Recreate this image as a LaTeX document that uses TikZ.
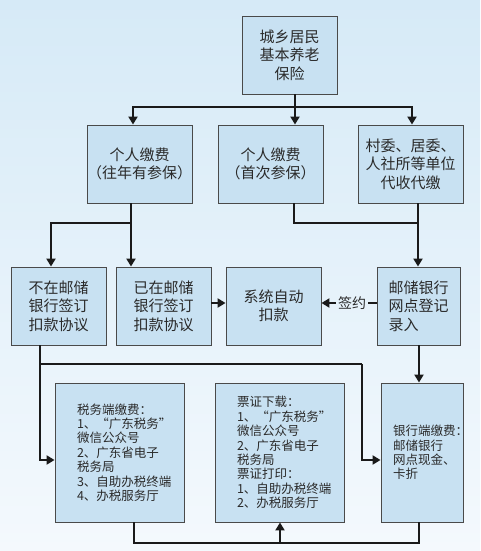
\documentclass[tikz,border=0pt]{standalone}
\usepackage{fontspec}
\setmainfont{Noto Sans CJK SC}
\usetikzlibrary{arrows.meta}
\definecolor{bgtop}{HTML}{D6EAF7}
\definecolor{bgbot}{HTML}{F4F9FD}
\definecolor{boxfill}{HTML}{C8E1F2}
\definecolor{boxline}{HTML}{4A4A4A}
\definecolor{linecol}{HTML}{1A1A1A}
\definecolor{txt}{HTML}{2A2A2A}
\tikzset{
  box/.style={draw=boxline, line width=0.9pt, fill=boxfill, inner sep=0pt, align=center, text=txt},
  bigtext/.style={font=\fontsize{15}{18.5}\selectfont},
  smalltext/.style={font=\fontsize{12.5}{14.4}\selectfont, align=left, inner ysep=0pt},
  conn/.style={draw=linecol, line width=2.6pt},
  arr/.style={conn, -{Triangle[length=8pt,width=9pt]}}
}
\begin{document}
\begin{tikzpicture}[x=1pt,y=-1pt]
\shade[top color=bgtop, bottom color=bgbot] (0,0) rectangle (480,551);
\useasboundingbox (0,0) rectangle (480,551);
% row 1
\node[box, bigtext, minimum width=95pt, minimum height=78pt] (T) at (289.5,55) {城乡居民\\基本养老\\保险};
% row 2
\node[box, bigtext, minimum width=105pt, minimum height=78pt] (A) at (139.5,164) {个人缴费\\（往年有参保）};
\node[box, bigtext, minimum width=105pt, minimum height=78pt] (B) at (270.5,164) {个人缴费\\（首次参保）};
\node[box, bigtext, minimum width=105pt, minimum height=78pt] (C) at (410.5,164) {村委、居委、\\人社所等单位\\代收代缴};
% row 3
\node[box, bigtext, minimum width=95pt, minimum height=78pt, align=left] (D) at (58.5,306) {不在邮储\\银行签订\\扣款协议};
\node[box, bigtext, minimum width=95pt, minimum height=78pt, align=left] (E) at (163.5,306) {已在邮储\\银行签订\\扣款协议};
\node[box, bigtext, minimum width=95pt, minimum height=78pt] (F) at (273.5,306) {系统自动\\扣款};
\node[box, bigtext, minimum width=83pt, minimum height=78pt, align=left] (G) at (418.5,306) {邮储银行\\网点登记\\录入};
\node[text=txt, font=\fontsize{14}{16}\selectfont, inner sep=2pt] (S) at (352,303) {签约};
% row 4
\node[box, smalltext, inner xsep=22pt, text width=85pt, minimum height=139pt] (H) at (119.5,452.5) {税务端缴费：\\1、“广东税务”\\微信公众号\\2、广东省电子\\税务局\\3、自助办税终端\\4、办税服务厅};
\node[box, smalltext, inner xsep=22pt, text width=85pt, minimum height=139pt] (I) at (279.5,452.5) {票证下载：\\1、“广东税务”\\微信公众号\\2、广东省电子\\税务局\\票证打印：\\1、自助办税终端\\2、办税服务厅};
\node[box, smalltext, inner xsep=12pt, text width=58pt, minimum height=139pt] (J) at (422,452.5) {银行端缴费：\\邮储银行\\网点现金、\\卡折\\[3pt]};
% junction coordinates
\coordinate (j0) at (295,107);
\coordinate (xA) at (133,0);
\coordinate (xC) at (412,0);
\coordinate (j1) at (131,223);
\coordinate (xD) at (51,0);
\coordinate (xB) at (294,0);
\coordinate (j2) at (418,223);
\coordinate (j3) at (40,364);
\coordinate (j4) at (362,364);
\coordinate (j5) at (40,460);
\coordinate (j6) at (362,460);
\coordinate (xG) at (419,0);
\coordinate (j7) at (134,543);
\coordinate (j8) at (419,543);
\coordinate (j9) at (280,543);
% connectors
\draw[conn] (T.south -| j0) -- (j0);
\draw[arr] (j0) -| (A.north -| xA);
\draw[arr] (j0) -- (B.north -| j0);
\draw[arr] (j0) -| (C.north -| xC);
\draw[conn] (A.south -| j1) -- (j1);
\draw[arr] (j1) -| (D.north -| xD);
\draw[arr] (j1) -- (E.north -| j1);
\draw[conn] (B.south -| xB) |- (j2);
\draw[arr] (C.south -| j2) -- (G.north -| j2);
\draw[arr] (E.east |- S) -- (F.west |- S);
\draw[conn, line width=2pt] (G.west |- S) -- (S.east);
\draw[arr, line width=2pt] (S.west) -- (F.east |- S);
\draw[conn] (D.south -| j3) -- (j3) -- (j4);
\draw[arr] (j3) -- (j5) -- (H.west |- j5);
\draw[arr] (j4) -- (j6) -- (J.west |- j6);
\draw[arr] (G.south -| xG) -- (J.north -| xG);
\draw[conn] (H.south -| j7) -- (j7) -- (j8) -- (J.south -| j8);
\draw[arr] (j9) -- (I.south -| j9);
\end{tikzpicture}
\end{document}
